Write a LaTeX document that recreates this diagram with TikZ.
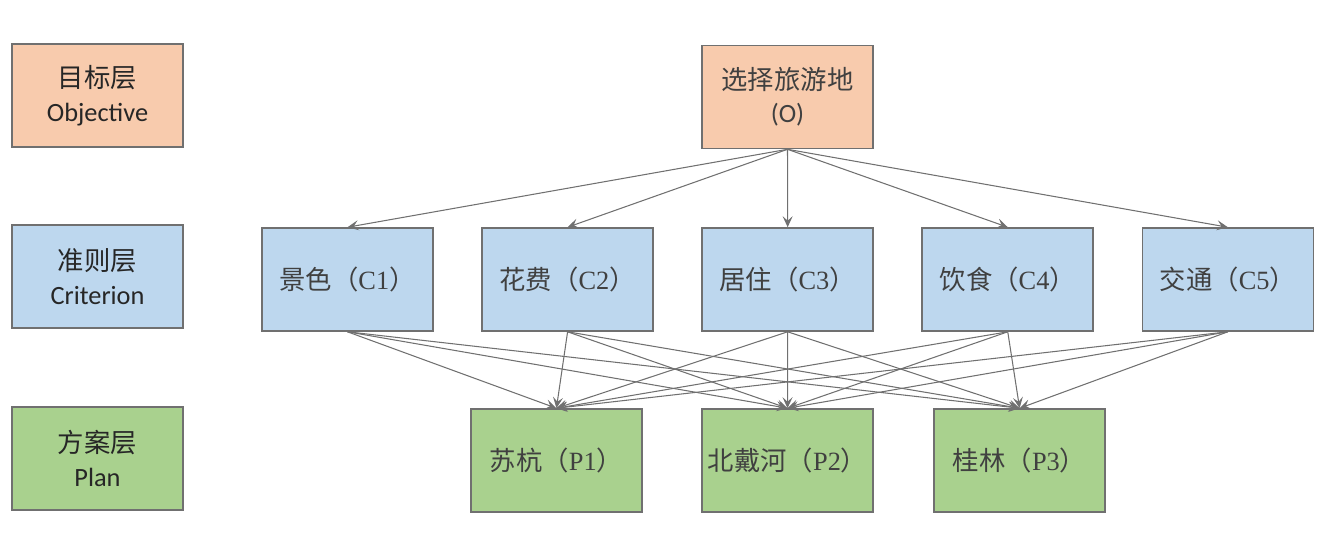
\documentclass[tikz,border=0pt]{standalone}
\usepackage{fontspec}
\setmainfont{Carlito}
\newfontfamily\cjk{Noto Sans CJK SC}
\newfontfamily\latn{Liberation Serif}
\usetikzlibrary{arrows.meta,positioning}
\definecolor{edgegray}{RGB}{112,112,112}
\definecolor{txtgray}{RGB}{64,64,64}
\definecolor{goalfill}{RGB}{248,203,173}
\definecolor{critfill}{RGB}{189,215,238}
\definecolor{planfill}{RGB}{169,209,142}
\newcommand{\clab}[2]{{\cjk #1（}{\latn #2}{\cjk ）}}
\tikzset{
  box/.style={
    draw=edgegray,
    line width=0.9pt,
    align=center,
    minimum width=3.42cm,
    minimum height=2.06cm,
    inner sep=2pt,
    text=txtgray,
    font=\fontsize{15pt}{19pt}\selectfont
  },
  goal/.style={
    box,
    fill=goalfill
  },
  crit/.style={
    box,
    fill=critfill
  },
  plan/.style={
    box,
    fill=planfill
  },
  tag/.style={
    box,
    text=black!85
  },
  flow/.style={
    -{Stealth[length=2.2mm,width=2mm,inset=0.9mm]},
    draw=edgegray,
    line width=0.6pt
  }
}
\begin{document}
\begin{tikzpicture}
  \useasboundingbox (0,0) rectangle (26.48,-10.64);

  % layer tags on the left
  \node[tag, fill=goalfill] (tobj) at (1.95,-1.91) {{\cjk 目标层}\\Objective};
  \node[tag, fill=critfill] (tcrit) at (1.95,-5.53) {{\cjk 准则层}\\Criterion};
  \node[tag, fill=planfill] (tplan) at (1.95,-9.17) {{\cjk 方案层}\\Plan};

  % hierarchy
  \node[goal] (o) at (15.75,-1.94) {{\cjk 选择旅游地}\\(O)};

  \node[crit] (c1) at (6.95,-5.59) {\clab{景色}{C1}};
  \node[crit, right=0.95cm of c1] (c2) {\clab{花费}{C2}};
  \node[crit, right=0.95cm of c2] (c3) {\clab{居住}{C3}};
  \node[crit, right=0.95cm of c3] (c4) {\clab{饮食}{C4}};
  \node[crit, right=0.95cm of c4] (c5) {\clab{交通}{C5}};

  \node[plan] (p2) at (15.75,-9.21) {\clab{北戴河}{P2}};
  \node[plan, left=1.17cm of p2] (p1) {\clab{苏杭}{P1}};
  \node[plan, right=1.19cm of p2] (p3) {\clab{桂林}{P3}};

  \draw[flow] (o.south) -- (c1.north);
  \draw[flow] (o.south) -- (c2.north);
  \draw[flow] (o.south) -- (c3.north);
  \draw[flow] (o.south) -- (c4.north);
  \draw[flow] (o.south) -- (c5.north);

  \draw[flow] (c1.south) -- (p1.north);
  \draw[flow] (c1.south) -- (p2.north);
  \draw[flow] (c1.south) -- (p3.north);
  \draw[flow] (c2.south) -- (p1.north);
  \draw[flow] (c2.south) -- (p2.north);
  \draw[flow] (c2.south) -- (p3.north);
  \draw[flow] (c3.south) -- (p1.north);
  \draw[flow] (c3.south) -- (p2.north);
  \draw[flow] (c3.south) -- (p3.north);
  \draw[flow] (c4.south) -- (p1.north);
  \draw[flow] (c4.south) -- (p2.north);
  \draw[flow] (c4.south) -- (p3.north);
  \draw[flow] (c5.south) -- (p1.north);
  \draw[flow] (c5.south) -- (p2.north);
  \draw[flow] (c5.south) -- (p3.north);
\end{tikzpicture}
\end{document}
